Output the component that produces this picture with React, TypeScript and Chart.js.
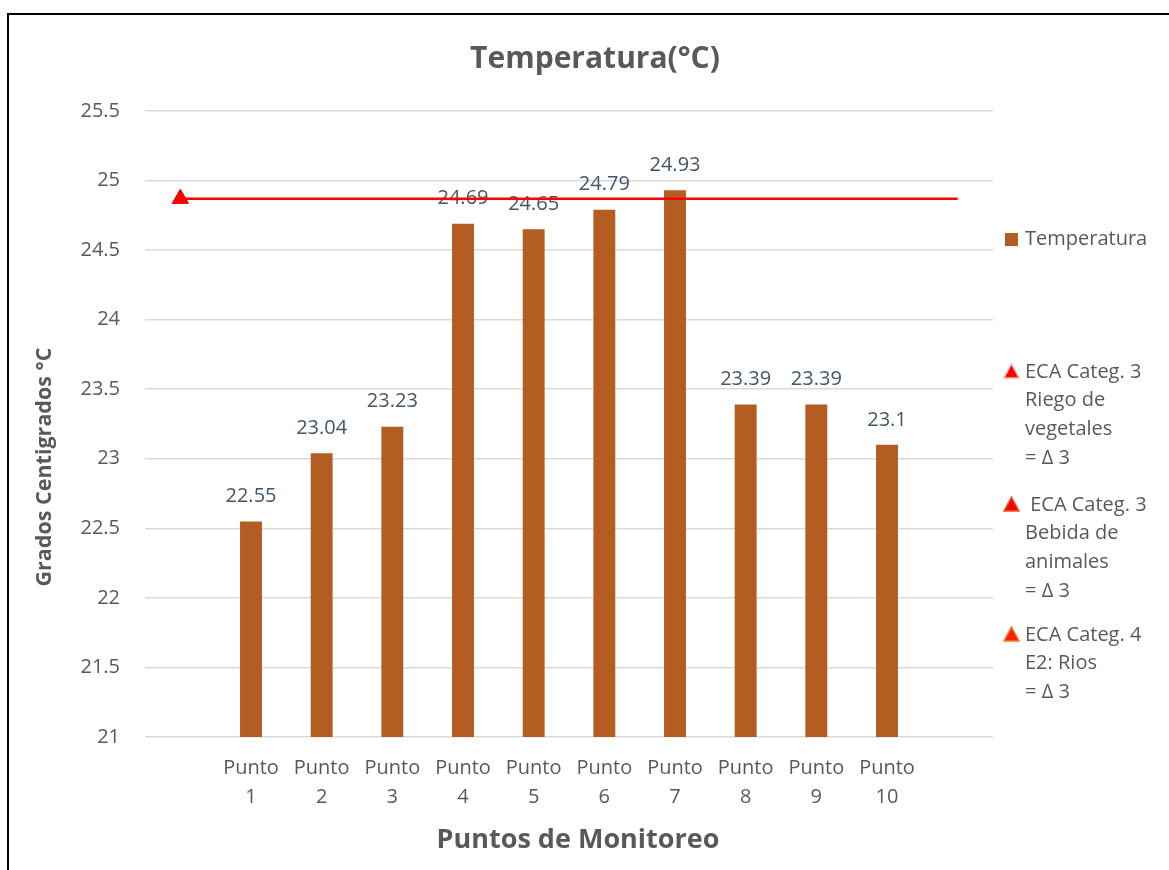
import { useEffect, useRef } from 'react';
import { Chart, registerables } from 'chart.js';

Chart.register(...registerables);

// Categories: an empty slot on each side frames the ten monitoring points
const categorias = ['', 'Punto 1', 'Punto 2', 'Punto 3', 'Punto 4', 'Punto 5', 'Punto 6', 'Punto 7', 'Punto 8', 'Punto 9', 'Punto 10', ''];

// Measured temperature per point (°C)
const temperatura = [null, 22.55, 23.04, 23.23, 24.69, 24.65, 24.79, 24.93, 23.39, 23.39, 23.1, null];

// ECA reference value (°C): marker in the first slot, line spanning to the last
const marcadorEca = [24.87, null, null, null, null, null, null, null, null, null, null, null];
const lineaEca = [24.87, null, null, null, null, null, null, null, null, null, null, 24.87];

// Y axis range
const ejeYMin = 21;
const ejeYMax = 25.5;
const ejeYPaso = 0.5;

const tituloGrafico = 'Temperatura(°C)';
const tituloEjeX = 'Puntos de Monitoreo';
const tituloEjeY = 'Grados Centigrados °C';
const serieBarras = 'Temperatura';

const leyendaEca = [
  { lineas: ['ECA Categ. 3', 'Riego de', 'vegetales', '= Δ 3'], borde: '#F4B4AE', relleno: '#FF0000' },
  { lineas: [' ECA Categ. 3', 'Bebida de', 'animales', '= Δ 3'], borde: '#D8602C', relleno: '#FF0000' },
  { lineas: ['ECA Categ. 4', 'E2: Rios', '= Δ 3'], borde: '#F0782A', relleno: '#FF2000' },
];

const FUENTE = '"Open Sans", sans-serif';
const GRIS = '#595959';
const COLOR_BARRA = '#B35D23';
const COLOR_ETIQUETA = '#44546A';

const decoracion = {
  id: 'decoracion',
  beforeDatasetsDraw(chart: any) {
    // value labels above each bar
    const ctx = chart.ctx;
    const meta = chart.getDatasetMeta(0);
    ctx.save();
    ctx.font = `20px ${FUENTE}`;
    ctx.fillStyle = COLOR_ETIQUETA;
    ctx.textAlign = 'center';
    ctx.textBaseline = 'middle';
    meta.data.forEach((el: any, i: number) => {
      const v = temperatura[i];
      if (v == null) return;
      ctx.fillText(String(v), el.x, el.y - 25);
    });
    ctx.restore();
  },
  afterDraw(chart: any) {
    const ctx = chart.ctx;
    const area = chart.chartArea;
    ctx.save();

    // chart title
    ctx.fillStyle = GRIS;
    ctx.textAlign = 'center';
    ctx.textBaseline = 'middle';
    ctx.font = `bold 30px ${FUENTE}`;
    ctx.fillText(tituloGrafico, 586, 44);

    // axis titles
    ctx.font = `bold 27px ${FUENTE}`;
    ctx.fillText(tituloEjeX, (area.left + area.right) / 2 + 9, 825);

    ctx.save();
    ctx.translate(36, 452);
    ctx.rotate(-Math.PI / 2);
    ctx.font = `bold 21.5px ${FUENTE}`;
    ctx.fillText(tituloEjeY, 0, 0);
    ctx.restore();

    // legend
    const xMarca = 996;
    const xTexto = 1016;
    const alto = 28.7;
    ctx.font = `20px ${FUENTE}`;
    ctx.textAlign = 'left';
    ctx.fillStyle = COLOR_BARRA;
    ctx.fillRect(xMarca, 218, 13, 13);
    ctx.fillStyle = GRIS;
    ctx.fillText(serieBarras, xTexto, 224);

    const inicios = [357, 490, 620];
    leyendaEca.forEach((item, k) => {
      const y0 = inicios[k];
      ctx.beginPath();
      ctx.moveTo(xMarca + 6.5, y0 - 8);
      ctx.lineTo(xMarca + 14, y0 + 6);
      ctx.lineTo(xMarca - 1, y0 + 6);
      ctx.closePath();
      ctx.fillStyle = item.relleno;
      ctx.fill();
      ctx.lineWidth = 1.5;
      ctx.strokeStyle = item.borde;
      ctx.stroke();
      ctx.fillStyle = GRIS;
      item.lineas.forEach((t, j) => ctx.fillText(t, xTexto, y0 + j * alto));
    });
    ctx.restore();
  },
};

export default function App() {
  const ref = useRef<HTMLCanvasElement>(null);

  useEffect(() => {
    const chart = new Chart(ref.current as HTMLCanvasElement, {
      type: 'bar',
      data: {
        labels: categorias,
        datasets: [
          {
            type: 'bar',
            label: serieBarras,
            data: temperatura as any,
            backgroundColor: COLOR_BARRA,
            barPercentage: 0.31,
            categoryPercentage: 1,
            order: 3,
          } as any,
          ...leyendaEca.map((item, k) => ({
            type: 'line',
            label: item.lineas.join(' ').trim(),
            data: marcadorEca,
            showLine: false,
            pointStyle: 'triangle',
            pointRadius: 9,
            backgroundColor: '#FF0000',
            borderColor: '#FF0000',
            borderWidth: 1,
            order: k,
          })),
          {
            type: 'line',
            label: 'Límite ECA',
            data: lineaEca,
            spanGaps: true,
            borderColor: '#FF0000',
            borderWidth: 2.5,
            pointRadius: 0,
            order: 2,
          } as any,
        ],
      },
      options: {
        responsive: false,
        animation: false,
        layout: { padding: { left: 0, right: 176, top: 96, bottom: 0 } },
        plugins: {
          legend: { display: false },
          tooltip: { enabled: false },
          title: { display: false },
        },
        scales: {
          x: {
            grid: { display: false },
            border: { display: false },
            ticks: {
              color: GRIS,
              font: { family: FUENTE, size: 20, lineHeight: 1.45 },
              padding: 9,
              autoSkip: false,
              maxRotation: 0,
              callback: (_v: any, i: number) => categorias[i].split(' '),
            },
            afterFit: (s: any) => {
              s.height = 133;
            },
          },
          y: {
            min: ejeYMin,
            max: ejeYMax,
            border: { display: false },
            grid: { color: '#D9D9D9', lineWidth: 1.5, drawTicks: false },
            ticks: {
              stepSize: ejeYPaso,
              color: GRIS,
              font: { family: FUENTE, size: 20 },
              padding: 25,
              callback: (v: any) => String(v),
            },
            afterFit: (s: any) => {
              s.width = 136;
            },
          },
        },
      } as any,
      plugins: [decoracion],
    });
    return () => chart.destroy();
  }, []);

  return (
    <div
      style={{
        position: 'fixed',
        left: 7,
        top: 13,
        width: 1162,
        height: 857,
        borderLeft: '2px solid #000',
        borderTop: '2px solid #000',
        background: '#fff',
        overflow: 'hidden',
      }}
    >
      <canvas ref={ref} width={1160} height={855} style={{ display: 'block' }} />
    </div>
  );
}
